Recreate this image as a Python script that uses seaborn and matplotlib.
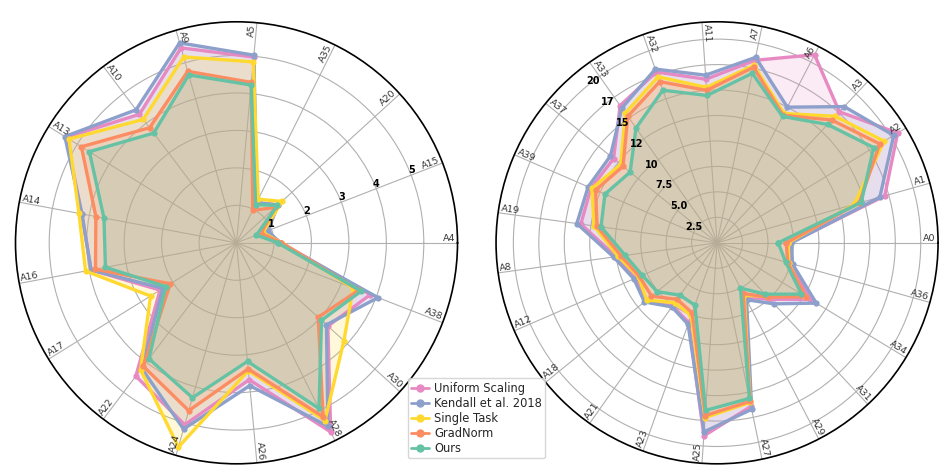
import numpy as np
import pandas as pd
import matplotlib
matplotlib.use('Agg')
import matplotlib.pyplot as plt
from matplotlib.lines import Line2D
import seaborn as sns

# --- data ---
methods = ['Uniform Scaling', 'Kendall et al. 2018', 'Single Task', 'GradNorm', 'Ours']

left_labels = ['A4', 'A15', 'A20', 'A35', 'A5', 'A9', 'A10', 'A13', 'A14',
               'A16', 'A17', 'A22', 'A24', 'A26', 'A28', 'A30', 'A38']
left_uniform = [1.2, 0.85, 1.5, 1.2, 4.98, 5.41, 4.3, 5.35, 4.2,
                3.95, 2.4, 4.46, 5.05, 3.67, 5.64, 3.3, 3.83]
left_kendall = [1.15, 0.9, 1.5, 1.2, 5.03, 5.55, 4.45, 5.39, 4.2,
                3.95, 2.31, 4.2, 5.17, 3.83, 5.47, 3.25, 4.05]
left_single = [1.2, 0.75, 1.64, 1.3, 4.85, 5.16, 4.13, 5.26, 4.28,
               4.1, 2.7, 4.25, 5.67, 3.43, 5.3, 3.88, 3.34]
left_gradnorm = [1.2, 0.7, 1.4, 0.97, 4.3, 4.76, 3.85, 4.87, 3.82,
                 3.83, 2.08, 4.13, 4.66, 3.38, 5.19, 2.95, 3.5]
left_ours = [1.1, 0.57, 1.48, 1.14, 4.23, 4.66, 3.67, 4.62, 3.6,
             3.56, 2.22, 3.88, 4.3, 3.18, 4.94, 3.07, 3.57]

right_labels = ['A0', 'A1', 'A2', 'A3', 'A6', 'A7', 'A11', 'A32', 'A33', 'A37',
                'A39', 'A19', 'A8', 'A12', 'A18', 'A21', 'A23', 'A25', 'A27',
                'A29', 'A31', 'A34', 'A36']
right_uniform = [7.2, 17.1, 20.75, 17.6, 20.8, 18.3, 16.1, 17.8, 16.5, 13.1,
                 13.5, 13.5, 10.0, 8.7, 9.1, 7.6, 8.3, 19.0, 16.4,
                 6.0, 7.6, 10.7, 7.5]
right_kendall = [7.3, 16.6, 20.3, 18.3, 15.0, 18.6, 16.5, 18.1, 16.2, 13.5,
                 13.8, 13.9, 10.25, 8.9, 9.2, 7.7, 8.5, 18.6, 16.7,
                 6.3, 8.2, 11.4, 7.7]
right_single = [7.0, 14.0, 19.2, 17.0, 14.3, 17.8, 15.3, 17.3, 15.6, 12.2,
                13.4, 12.2, 9.8, 8.4, 8.9, 7.2, 7.6, 17.2, 16.0,
                5.8, 7.2, 10.0, 7.3]
right_gradnorm = [6.8, 14.5, 18.7, 16.5, 14.1, 17.6, 15.0, 16.8, 15.2, 11.9,
                  13.0, 11.9, 9.5, 8.3, 8.3, 6.8, 7.3, 17.0, 15.9,
                  5.6, 7.3, 10.2, 7.2]
right_ours = [6.0, 14.7, 18.0, 15.9, 13.97, 17.0, 14.5, 15.9, 13.8, 11.0,
              12.0, 11.5, 9.1, 8.0, 7.6, 6.3, 6.5, 16.5, 15.6,
              5.0, 6.9, 9.7, 7.0]

left_rticks = [1, 2, 3, 4, 5]
left_rticklabels = ['1', '2', '3', '4', '5']
right_rticks = [2.5, 5.0, 7.5, 10.0, 12.5, 15.0, 17.5, 20.0]
right_rticklabels = ['2.5', '5.0', '7.5', '10', '12', '15', '17', '20']

set2 = sns.color_palette('Set2')
palette = dict(zip(methods, [set2[3], set2[2], set2[5], set2[1], set2[0]]))

sns.set_style('white')
plt.rcParams['font.family'] = ['DejaVu Sans']


def draw_radar(ax, labels, series, rmax, rticks, rticklabels, rlabel_pos, rlabel_align):
    n = len(labels)
    theta = np.arange(n) * 2 * np.pi / n
    t_closed = np.append(theta, 2 * np.pi)

    rows = []
    for m, vals in zip(methods, series):
        v_closed = list(vals) + [vals[0]]
        for t, v in zip(t_closed, v_closed):
            rows.append({'theta': t, 'value': v, 'method': m})
    df = pd.DataFrame(rows)

    for m, vals in zip(methods, series):
        ax.fill(t_closed, list(vals) + [vals[0]], color=palette[m], alpha=0.17, lw=0)

    sns.lineplot(data=df, x='theta', y='value', hue='method', hue_order=methods,
                 palette=palette, sort=False, estimator=None, marker='o',
                 markersize=4.5, markeredgewidth=0, linewidth=2.4, legend=False, ax=ax)

    ax.set_xlabel('')
    ax.set_ylabel('')
    ax.set_ylim(0, rmax)
    ax.set_xticks(theta)
    ax.set_xticklabels([])
    ax.set_yticks(rticks)
    ax.set_yticklabels([])
    ax.grid(True, color='#b0b0b0', linewidth=0.8)
    ax.spines['polar'].set_color('black')
    ax.spines['polar'].set_linewidth(1.2)

    # radial tick labels on top of the lines
    ha, va = rlabel_align
    for r, txt in zip(rticks, rticklabels):
        ax.text(np.radians(rlabel_pos), r, txt, ha=ha, va=va, fontsize=7,
                fontweight='bold', color='black', zorder=10)

    # axis names sit on the spokes, just inside the outer circle
    for lab, t in zip(labels, theta):
        deg = np.degrees(t)
        if 90 < deg < 270:
            rot, tha = deg - 180, 'left'
        else:
            rot, tha = deg, 'right'
        ax.text(t, rmax * 0.99, lab, rotation=rot, rotation_mode='anchor',
                ha=tha, va='bottom', fontsize=6.8, color='#333333', zorder=10)


fig = plt.figure(figsize=(9.51, 4.76), dpi=100)
ax_l = fig.add_axes([0.0163, 0.0256, 0.4648, 0.9286], projection='polar')
ax_r = fig.add_axes([0.5216, 0.0256, 0.4648, 0.9286], projection='polar')

draw_radar(ax_l, left_labels,
           [left_uniform, left_kendall, left_single, left_gradnorm, left_ours],
           5.9, left_rticks, left_rticklabels, 21.2, ('center', 'bottom'))
draw_radar(ax_r, right_labels,
           [right_uniform, right_kendall, right_single, right_gradnorm, right_ours],
           21.7, right_rticks, right_rticklabels, 125.2, ('right', 'top'))

handles = [Line2D([0], [0], color=palette[m], lw=2, marker='o', markersize=5) for m in methods]
fig.legend(handles, methods, loc='lower center', bbox_to_anchor=(0.501, 0.025),
           fontsize=8.3, frameon=True, handlelength=1.6, labelspacing=0.18,
           borderpad=0.3, handletextpad=0.4, fancybox=True, edgecolor='#cccccc')

fig.savefig('out.png', dpi=100)
